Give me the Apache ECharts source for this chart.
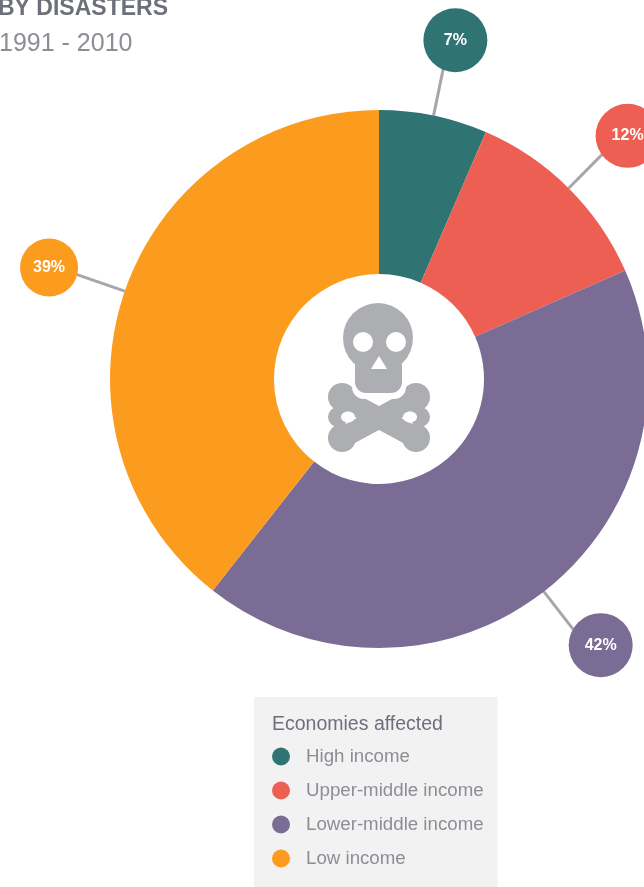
<!DOCTYPE html>
<html><head><meta charset="utf-8">
<style>html,body{margin:0;padding:0;background:#fff}#c{width:644px;height:887px}</style>
<script src="https://cdn.jsdelivr.net/npm/echarts@6/dist/echarts.min.js"></script>
</head><body><div id="c"></div>
<script>
const categories = ['High income','Upper-middle income','Lower-middle income','Low income'];
const shares = [6.5, 11.9, 42.2, 39.4];
const colors = ['#2f7472','#ec5f52','#7a6c95','#fb9c1f'];
const bubbleSizes = [64, 64, 64, 58];
const chartTitle = 'BY DISASTERS';
const chartSubtitle = '1991 - 2010';
const legendTitle = 'Economies affected';
const FONT = '"Liberation Sans", Arial, sans-serif';
const GREY = '#adaeb1';
const bubbleNudge = [[6,1],[4,3],[9,-8],[-2,2]];
const bone = (x1,y1,x2,y2)=>({type:'line',shape:{x1,y1,x2,y2},style:{stroke:GREY,lineWidth:21},z:10});
const knob = (cx,cy,r)=>({type:'circle',shape:{cx,cy,r},style:{fill:GREY},z:10});
const skull = [
  bone(342,398,416,438), bone(416,398,342,438),
  knob(342,397,14), knob(338,417,10), knob(342,438,14),
  knob(416,397,14), knob(420,417,10), knob(416,438,14),
  {type:'ellipse',shape:{cx:348,cy:417,rx:7,ry:5.5},style:{fill:'#fff'},z:11},
  {type:'ellipse',shape:{cx:410,cy:417,rx:7,ry:5.5},style:{fill:'#fff'},z:11},
  {type:'rect',shape:{x:352,y:360,width:54,height:39,r:12},style:{fill:'#fff'},z:12},
  {type:'circle',shape:{cx:378,cy:338,r:35},style:{fill:GREY},z:13},
  {type:'rect',shape:{x:355,y:355,width:47,height:38,r:11},style:{fill:GREY},z:13},
  {type:'circle',shape:{cx:363,cy:342,r:10},style:{fill:'#fff'},z:14},
  {type:'circle',shape:{cx:396,cy:342,r:10},style:{fill:'#fff'},z:14},
  {type:'polygon',shape:{points:[[379,356],[387,369],[371,369]]},style:{fill:'#fff'},z:14}
];
const chart = echarts.init(document.getElementById('c'),null,{renderer:'canvas'});
chart.setOption({
  animation:false,
  title:[
    {text:chartTitle,left:-2,top:-3,padding:0,textStyle:{fontFamily:FONT,fontSize:23,fontWeight:'bold',color:'#6d7079'}},
    {text:chartSubtitle,left:-1,top:32,padding:0,textStyle:{fontFamily:FONT,fontSize:25,fontWeight:'normal',color:'#8b8e94'}},
    {text:legendTitle,left:272,top:715,padding:0,z:5,textStyle:{fontFamily:FONT,fontSize:19.5,fontWeight:'normal',color:'#6d7079'}}
  ],
  color:colors,
  legend:{
    orient:'vertical',left:254,top:697,height:125,data:categories,icon:'circle',
    itemWidth:18,itemHeight:18,itemGap:15,itemStyle:{borderWidth:0},
    backgroundColor:'#f2f2f3',padding:[50,14,22,18],selectedMode:false,
    textStyle:{fontFamily:FONT,fontSize:18.7,color:'#8b8e94',padding:[0,0,0,11]}
  },
  graphic:skull,
  series:[{
    type:'pie',center:[379,379],radius:[105,269],startAngle:90,clockwise:true,
    data:categories.map((name,i)=>({name,value:shares[i],itemStyle:{color:colors[i]},
      label:{backgroundColor:colors[i],width:bubbleSizes[i],height:bubbleSizes[i],lineHeight:bubbleSizes[i],borderRadius:bubbleSizes[i]/2}})),
    emphasis:{disabled:true},
    label:{
      show:true,position:'outside',formatter:p=>Math.round(p.value)+'%',
      align:'center',verticalAlign:'middle',
      color:'#fff',fontFamily:FONT,fontSize:16,fontWeight:'bold',distanceToLabelLine:0
    },
    labelLine:{show:true,length:78,length2:0,smooth:false,lineStyle:{color:'#a6a7ab',width:3}},
    labelLayout:p=>({align:'center',verticalAlign:'middle',dx:bubbleNudge[p.dataIndex][0],dy:bubbleNudge[p.dataIndex][1]}),
    z:2
  }]
});
</script></body></html>
